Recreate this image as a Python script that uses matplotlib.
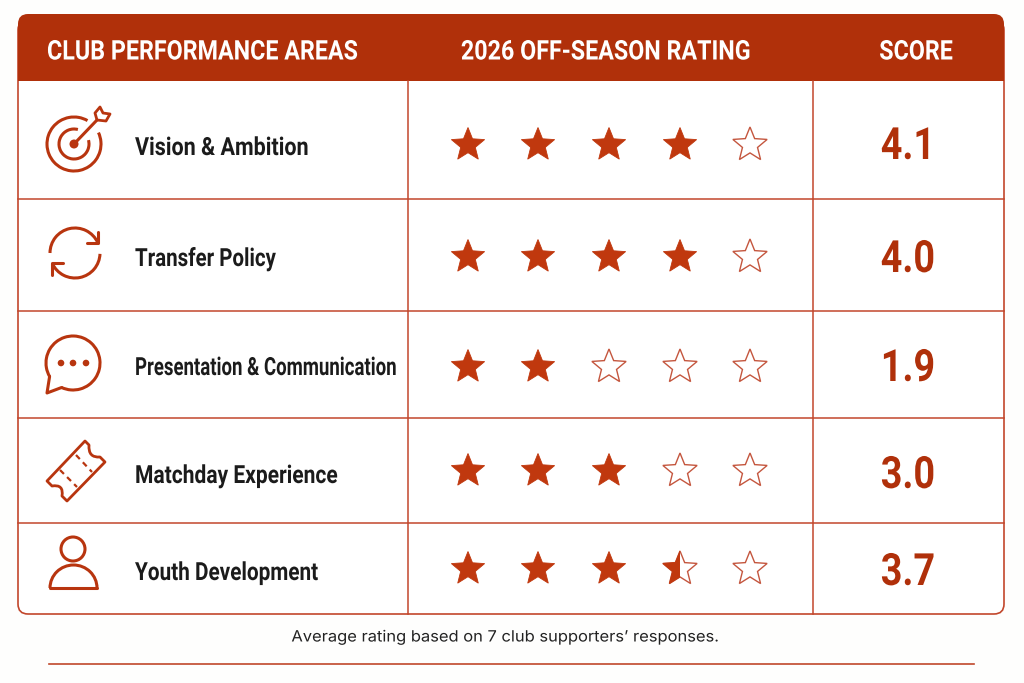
import matplotlib
matplotlib.use("Agg")
import matplotlib.pyplot as plt
from matplotlib.patches import FancyBboxPatch, Rectangle, Circle, Arc, Polygon, PathPatch
from matplotlib.patheffects import AbstractPathEffect
from matplotlib.path import Path
from matplotlib.transforms import Affine2D
import numpy as np

# --- DATA ---
areas = ["Vision & Ambition", "Transfer Policy", "Presentation & Communication",
         "Matchday Experience", "Youth Development"]
scores = ["4.1", "4.0", "1.9", "3.0", "3.7"]
stars_filled = [4, 4, 2, 3, 3.5]
headers = ["CLUB PERFORMANCE AREAS", "2026 OFF-SEASON RATING", "SCORE"]
footnote = "Average rating based on 7 club supporters’ responses."

RED = "#B0300A"
ICON = "#B8350F"
STAR = "#C0380E"
LINE = "#C2472C"
INK = "#1B1B1B"
FONT = ["Roboto", "DejaVu Sans"]

# --- LAYOUT (pixels) ---
row_lines = [81, 199, 311, 418, 523, 614]
row_text_y = [148, 259, 368, 476, 573]
row_text_squeeze = [0.86, 0.82, 0.745, 0.84, 0.83]
row_star_y = [145, 257, 367, 471, 569]
row_score_y = [147, 260, 369, 476, 573]
col_lines = [18, 408, 813, 1004]
star_x = [468, 538, 609, 680, 750]

fig = plt.figure(figsize=(10.24, 6.83), dpi=100)
fig.patch.set_facecolor("#FEFEFD")
ax = fig.add_axes([0, 0, 1, 1])
ax.set_xlim(0, 1024)
ax.set_ylim(683, 0)
ax.axis("off")


# no narrow font installed, so squeeze the glyphs sideways around the anchor
class Squeeze(AbstractPathEffect):
    def __init__(self, x0, sx):
        super().__init__()
        self.x0 = x0
        self.sx = sx

    def draw_path(self, renderer, gc, tpath, affine, rgbFace=None):
        squeeze = Affine2D().translate(-self.x0, 0).scale(self.sx, 1).translate(self.x0, 0)
        renderer.draw_path(gc, tpath, affine + squeeze, rgbFace)


def label(x, y, s, sx, **kw):
    t = ax.text(x, y, s, va="center", **kw)
    t.set_path_effects([Squeeze(x, sx)])
    return t


def star_points(cx, cy, r, inner=0.44):
    ang = np.deg2rad(-90 + 36 * np.arange(10))
    rad = np.where(np.arange(10) % 2 == 0, r, r * inner)
    return np.column_stack([cx + rad * np.cos(ang), cy + rad * np.sin(ang)])


def draw_star(cx, cy, fill):
    if fill >= 1:
        ax.add_patch(Polygon(star_points(cx, cy, 17.5), closed=True, fc=STAR, ec=STAR, lw=0.6))
        return
    pts = star_points(cx, cy, 18)
    ax.add_patch(Polygon(pts, closed=True, fc="none", ec="#C4563E", lw=1.0, joinstyle="miter"))
    if fill > 0:
        p = Polygon(pts, closed=True, fc=STAR, ec=STAR, lw=0.6)
        ax.add_patch(p)
        p.set_clip_path(Rectangle((cx - 30, cy - 30), 30, 60, transform=ax.transData))


# --- TABLE FRAME ---
ax.add_patch(FancyBboxPatch((18, 20), 986, 594, boxstyle="round,pad=0,rounding_size=10",
                            fc="white", ec=LINE, lw=1.2, zorder=1))
ax.add_patch(FancyBboxPatch((18, 14), 986, 50, boxstyle="round,pad=0,rounding_size=10",
                            fc=RED, ec="none", zorder=2))
ax.add_patch(Rectangle((18, 40), 986, 41, fc=RED, ec="none", zorder=2))
for y in row_lines[1:-1]:
    ax.plot([18, 1004], [y, y], color=LINE, lw=1.1, zorder=3)
for x in col_lines[1:3]:
    ax.plot([x, x], [81, 614], color=LINE, lw=1.1, zorder=3)

# --- HEADER ---
for x, text, ha in zip([47, 606, 916], headers, ["left", "center", "center"]):
    label(x, 52, text, 0.86, color="white", fontsize=19.5, family=FONT, weight="bold",
          ha=ha, zorder=4)

# --- ROWS ---
for area, y, sx in zip(areas, row_text_y, row_text_squeeze):
    label(135, y, area, sx, color=INK, fontsize=18, family=FONT, weight="bold", ha="left")
for score, y in zip(scores, row_score_y):
    label(908, y, score, 0.85, color=RED, fontsize=32, family=FONT, weight="bold", ha="center")
for filled, y in zip(stars_filled, row_star_y):
    for i, x in enumerate(star_x):
        draw_star(x, y, min(max(filled - i, 0), 1))

# --- ICONS ---
ic = dict(color=ICON, lw=2.2, solid_capstyle="round", solid_joinstyle="round")


def arc(cx, cy, r, a1, a2, lw=2.2):
    ax.add_patch(Arc((cx, cy), 2 * r, 2 * r, theta1=a1, theta2=a2, color=ICON, lw=lw))


# target
arc(74, 144, 27, -25, 300)
arc(74, 144, 15, -15, 285)
ax.add_patch(Circle((74, 144), 4.5, fc=ICON, ec="none"))
ax.plot([74, 97], [144, 120], **ic)
ax.add_patch(Polygon([[97, 120], [95, 113], [100, 107], [103, 113], [110, 114], [106, 121]],
                     closed=True, fc="white", ec=ICON, lw=2.0, joinstyle="round"))

# refresh arrows
arc(75, 253, 25, 180, 335)
arc(75, 253, 25, 2, 155)
ax.plot([98, 98, 87], [232, 243, 243], **ic)
ax.plot([52, 52, 63], [275, 263, 263], **ic)

# chat bubble
arc(73, 363, 27, 150, 475)
ax.plot([49.6, 47, 61.6], [376.5, 393, 387.5], **ic)
for x in [61, 73, 86]:
    ax.add_patch(Circle((x, 363), 3.3, fc=ICON, ec="none"))

# ticket
t = Path([(85, 441), (89, 445), (88, 458), (100, 457), (105, 462), (67, 501),
          (62, 496), (64, 484), (52, 486), (47, 481), (85, 441)],
         [Path.MOVETO, Path.LINETO, Path.CURVE3, Path.CURVE3, Path.LINETO, Path.LINETO,
          Path.LINETO, Path.CURVE3, Path.CURVE3, Path.LINETO, Path.CLOSEPOLY])
ax.add_patch(PathPatch(t, fc="none", ec=ICON, lw=2.0, joinstyle="round"))
ax.plot([76, 92], [455, 472], color=ICON, lw=1.6, ls=(0, (2.5, 2)))
ax.plot([60, 77], [470, 487], color=ICON, lw=1.6, ls=(0, (2.5, 2)))

# person
ax.add_patch(Circle((73, 549), 12, fc="none", ec=ICON, lw=2.2))
ax.add_patch(Arc((73.5, 588), 47, 46, theta1=180, theta2=360, color=ICON, lw=2.2))
ax.plot([50, 97], [588, 588], **ic)

# --- FOOTER ---
label(505, 637, footnote, 1.06, color="#222222", fontsize=11.2,
      family=["Inter", "DejaVu Sans"], ha="center")
ax.plot([49, 974], [664, 664], color="#C0482C", lw=1.2)

fig.savefig("out.png", dpi=100, facecolor=fig.get_facecolor())
